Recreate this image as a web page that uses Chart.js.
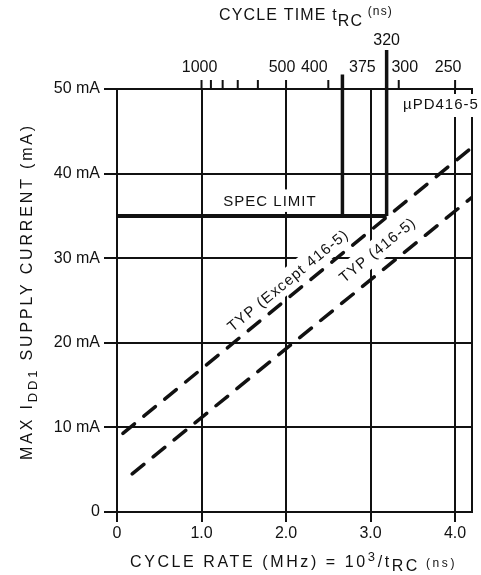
<!DOCTYPE html>
<html>
<head>
<meta charset="utf-8">
<script src="https://cdn.jsdelivr.net/npm/chart.js@4.4.1/dist/chart.umd.min.js"></script>
<style>
  html, body { margin: 0; padding: 0; background: #fff; }
  #wrap { position: relative; width: 481px; height: 575px; }
</style>
</head>
<body>
<div id="wrap"><canvas id="c"></canvas></div>
<script>
// ---------------- data ----------------
const xTickValues = [0, 1, 2, 3, 4];
const xTickLabels = ['0', '1.0', '2.0', '3.0', '4.0'];
const yTickValues = [0, 10, 20, 30, 40, 50];
const yTickLabels = ['0', '10 mA', '20 mA', '30 mA', '40 mA', '50 mA'];

// top axis: cycle time in ns (cycle rate MHz = 1000 / ns)
const topTickNs = [1000, 900, 800, 700, 600, 500, 400, 300, 250];
const topLabelNs = [1000, 500, 400, 375, 300, 250];

// spec limit (mA) and marker lines (375 ns and 320 ns) in MHz as drawn
const specLimitX = [0, 3.19];
const specLimitY = [35, 35];
const markerLabels = ['', '320'];
const markerX = [2.667, 3.19];
const markerBottom = [35, 35];
const markerTop = [51.7, 54.6];

// typical curves
const typExceptX = [0.07, 4.2];
const typExceptY = [9.3, 43.1];
const typX = [0.18, 4.2];
const typY = [4.5, 37.2];

// ---------------- styles / layout ----------------
const INK = '#111';
const FONT = '"Liberation Sans", Arial, sans-serif';

const toPts = (xs, ys) => xs.map((v, i) => ({ x: v, y: ys[i] }));

const markerSets = markerX.map((mx, i) => ({
  data: toPts([mx, mx], [markerBottom[i], markerTop[i]]),
  borderColor: INK, borderWidth: 3.5, pointRadius: 0, showLine: true, clip: false,
  borderCapStyle: 'butt'
}));

function drawRich(ctx, parts, x0, base, target) {
  let natural = 0, chars = 0;
  parts.forEach(p => {
    ctx.font = p.size + 'px ' + FONT;
    ctx.letterSpacing = '0px';
    p.w = ctx.measureText(p.t).width;
    natural += p.w; chars += p.t.length;
  });
  const ls = (target - natural) / chars;
  let x = x0;
  parts.forEach(p => {
    ctx.font = p.size + 'px ' + FONT;
    ctx.letterSpacing = ls + 'px';
    ctx.fillText(p.t, x, base + (p.dy || 0));
    x += p.w + ls * p.t.length;
  });
  ctx.letterSpacing = '0px';
}

function maskedLabel(ctx, text, cx, cy, angle, size, ls) {
  ctx.save();
  ctx.translate(cx, cy);
  ctx.rotate(angle);
  ctx.font = size + 'px ' + FONT;
  ctx.letterSpacing = '0px';
  const w = ctx.measureText(text).width + ls * text.length;
  ctx.fillStyle = '#fff';
  ctx.fillRect(-w / 2 - 3, -size * 0.75, w + 6, size * 1.5);
  ctx.fillStyle = INK;
  ctx.letterSpacing = ls + 'px';
  ctx.textAlign = 'left';
  ctx.textBaseline = 'middle';
  ctx.fillText(text, -w / 2, 1);
  ctx.restore();
}

const overlay = {
  id: 'overlay',
  beforeDatasetsDraw(chart) {
    const { ctx, chartArea: a, scales: { x, y } } = chart;
    ctx.save();
    ctx.strokeStyle = INK;
    ctx.lineWidth = 2;
    // right frame
    ctx.beginPath();
    ctx.moveTo(a.right, a.top - 1); ctx.lineTo(a.right, a.bottom);
    ctx.stroke();
    // top axis ticks
    topTickNs.forEach(ns => {
      const px = x.getPixelForValue(1000 / ns);
      ctx.beginPath(); ctx.moveTo(px, a.top - 9); ctx.lineTo(px, a.top); ctx.stroke();
    });
    // top axis labels
    ctx.fillStyle = INK;
    ctx.font = '16px ' + FONT;
    ctx.textAlign = 'center';
    ctx.textBaseline = 'middle';
    const labelShift = { 1000: -2, 500: -4, 400: -14, 375: 20, 300: 6, 250: -7 };
    topLabelNs.forEach(ns => {
      const px = x.getPixelForValue(1000 / ns) + (labelShift[ns] || 0);
      ctx.fillText(String(ns), px, a.top - 21);
    });
    markerLabels.forEach((t, i) => {
      if (t) ctx.fillText(t, x.getPixelForValue(markerX[i]), a.top - 48);
    });
    // top title
    ctx.textAlign = 'left';
    ctx.textBaseline = 'alphabetic';
    drawRich(ctx, [
      { t: 'CYCLE TIME t', size: 16 },
      { t: 'RC', size: 16, dy: 6 },
      { t: ' (ns)', size: 12, dy: -5 }
    ], 219, 20, 174);
    // bottom title
    drawRich(ctx, [
      { t: 'CYCLE RATE (MHz) = 10', size: 16 },
      { t: '3', size: 13, dy: -6 },
      { t: '/t', size: 16 },
      { t: 'RC', size: 16, dy: 4 },
      { t: ' (ns)', size: 12, dy: 0 }
    ], 130, 567, 327);
    // y title (rotated)
    ctx.save();
    ctx.translate(32, 460);
    ctx.rotate(-Math.PI / 2);
    drawRich(ctx, [
      { t: 'MAX I', size: 16 },
      { t: 'DD1', size: 13, dy: 5 },
      { t: ' SUPPLY CURRENT (mA)', size: 16 }
    ], 0, 0, 337);
    ctx.restore();

    // annotations (masking grid)
    const ang = (xs, ys) => Math.atan2(
      y.getPixelForValue(ys[1]) - y.getPixelForValue(ys[0]),
      x.getPixelForValue(xs[1]) - x.getPixelForValue(xs[0]));
    maskedLabel(ctx, 'SPEC LIMIT', x.getPixelForValue(1.81), y.getPixelForValue(36.8), 0, 15, 1);
    maskedLabel(ctx, 'TYP (Except 416-5)', x.getPixelForValue(2.02), y.getPixelForValue(27.4), ang(typExceptX, typExceptY), 15, 1.1);
    maskedLabel(ctx, 'TYP (416-5)', x.getPixelForValue(3.08), y.getPixelForValue(31.0), ang(typX, typY), 15, 1.1);
    // µPD416-5 label at top-right
    ctx.fillStyle = '#fff';
    ctx.fillRect(398, a.top + 5, 90, 23);
    ctx.fillStyle = INK;
    ctx.font = '15px ' + FONT;
    ctx.letterSpacing = '1px';
    ctx.textAlign = 'left';
    ctx.textBaseline = 'middle';
    ctx.fillText('\u00B5PD416-5', 403, a.top + 16);
    ctx.letterSpacing = '0px';
    // little corner at top-right of frame
    ctx.beginPath();
    ctx.moveTo(a.right - 4, a.top); ctx.lineTo(a.right, a.top); ctx.lineTo(a.right, a.top + 5);
    ctx.stroke();
    ctx.restore();
  }
};

const chart = new Chart(document.getElementById('c'), {
  type: 'scatter',
  data: {
    datasets: [
      { data: toPts(specLimitX, specLimitY), borderColor: INK, borderWidth: 4, pointRadius: 0, showLine: true, clip: false },
      ...markerSets,
      { data: toPts(typExceptX, typExceptY), borderColor: INK, borderWidth: 3.5, borderDash: [15, 12], borderCapStyle: 'round', pointRadius: 0, showLine: true },
      { data: toPts(typX, typY), borderColor: INK, borderWidth: 3.5, borderDash: [15, 12], borderCapStyle: 'round', pointRadius: 0, showLine: true }
    ]
  },
  options: {
    responsive: true,
    maintainAspectRatio: false,
    animation: false,
    devicePixelRatio: 1,
    layout: { padding: { top: 89, right: 9, left: 0, bottom: 0 } },
    plugins: { legend: { display: false }, tooltip: { enabled: false } },
    scales: {
      x: {
        type: 'linear', min: 0, max: 4.2,
        afterBuildTicks: s => { s.ticks = xTickValues.map(v => ({ value: v })); },
        afterFit: s => { s.height = 63; },
        ticks: {
          autoSkip: false, maxRotation: 0, padding: 2, color: INK,
          font: { family: FONT, size: 16 },
          callback: (v) => xTickLabels[xTickValues.indexOf(v)]
        },
        grid: { color: INK, lineWidth: 2, tickLength: 10, drawTicks: true },
        border: { display: true, color: INK, width: 2 }
      },
      y: {
        type: 'linear', min: 0, max: 50,
        afterBuildTicks: s => { s.ticks = yTickValues.map(v => ({ value: v })); },
        afterFit: s => { s.width = 117; },
        ticks: {
          autoSkip: false, padding: 4, color: INK,
          font: { family: FONT, size: 16 },
          callback: (v) => yTickLabels[yTickValues.indexOf(v)]
        },
        grid: { color: INK, lineWidth: 2, tickLength: 13, drawTicks: true },
        border: { display: true, color: INK, width: 2 }
      }
    }
  },
  plugins: [overlay]
});
</script>
</body>
</html>
